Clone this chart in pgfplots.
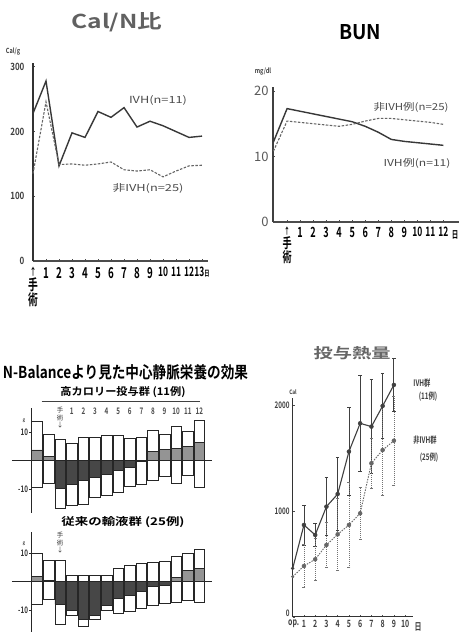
\documentclass[border=0pt]{standalone}
\usepackage{fontspec}
\setmainfont{Noto Sans CJK JP}[BoldFont={Noto Sans CJK JP Bold}]
\newfontfamily\cndA{Noto Sans CJK JP Bold}[FakeStretch=0.65]
\newfontfamily\cndB{Noto Sans CJK JP Bold}[FakeStretch=0.8]
\newfontfamily\cndC{Noto Sans CJK JP Bold}[FakeStretch=0.7]
\usepackage{graphicx}
\usepackage{pgfplots}
\usepackage{pgfplotstable}
\pgfplotsset{compat=1.18}

\pgfplotstableread{
x T B N P
-2 13.7 -9.2 0 3.8
-1 9.2 -8.0 0 1.4
0 7.5 -16.7 -9.7 0
1 6.1 -15.5 -8.3 0
2 8.2 -15.2 -7.0 0
3 8.2 -12.8 -5.8 0
4 8.8 -12.0 -4.7 0
5 8.8 -11.2 -3.3 0
6 7.9 -9.1 -2.3 0
7 8.1 -8.3 -0.3 0
8 10.5 -6.8 0 3.2
9 9.2 -5.6 0 4.1
10 12.1 -7.9 0 4.3
11 10.4 -5.0 0 5.1
12 14.3 -9.5 0 6.3
}\nbupper

\pgfplotstableread{
x T B N P
-2 10.2 -8.0 0 2.0
-1 7.5 -6.2 0 0.6
0 7.4 -15.1 -8.0 0
1 2.2 -11.8 -10.0 0
2 2.2 -15.9 -13.5 0
3 2.2 -13.5 -11.8 0
4 2.2 -10.0 -8.2 0
5 4.9 -11.2 -5.9 0
6 5.9 -10.6 -4.7 0
7 6.5 -9.4 -3.3 0
8 6.8 -8.2 -1.8 0
9 7.3 -7.6 -1.2 0
10 9.1 -7.3 0 1.5
11 10.2 -6.5 0 4.0
12 11.4 -7.3 0 4.8
}\nblower

\pgfplotsset{
  nbbox/.style={ybar, bar width=10.6pt, bar shift=0pt, fill=white, draw=black!85, line width=0.7pt},
  nbaxis/.style={scale only axis, anchor=south west, width=180pt,
    xmin=-2.46, xmax=13.06, axis x line=none, axis y line=left,
    axis line style={-, line width=0.9pt, black!85},
    xtick=\empty, ytick={-10,10}, yticklabels={-10,10},
    tick align=outside, major tick length=2.5pt, tick style={black!85, line width=0.7pt},
    yticklabel style={font=\cndC\fontsize{9}{9}\selectfont, text=black!80, inner sep=1pt},
    clip=false},
}
\newcommand{\tw}[1]{{\fontsize{13}{13}\selectfont #1}}

\begin{document}
\begin{tikzpicture}
\path[use as bounding box] (0,0) rectangle (459pt,639pt);
\fill[white] (0,0) rectangle (459pt,639pt);

% ---------------- Panel 1: Cal/N ratio ----------------
\begin{axis}[scale only axis, at={(33pt,378pt)}, anchor=south west, width=175pt, height=198pt,
  xmin=0, xmax=13.46, ymin=0, ymax=306,
  axis lines=left, axis line style={-},
  x axis line style={line width=1.2pt, black!70},
  y axis line style={line width=1.6pt, black!80},
  xtick={0,...,13},
  xticklabels={{\fontsize{10}{11}\selectfont ↑\\手\\術},1,2,3,4,5,6,7,8,9,\tw{10},\tw{11},\tw{12},{\tw{13}\fontsize{8}{8}\selectfont 日}},
  ytick={0,100,200,300}, yticklabels={0,100,200,300},
  tick align=inside, major tick length=2pt, tick style={black!70, line width=0.8pt},
  xticklabel style={font=\cndA\fontsize{15}{15}\selectfont, align=center, anchor=north, inner sep=1pt, yshift=-5pt},
  yticklabel style={font=\cndB\fontsize{10}{10}\selectfont, text=black!75, xshift=-5pt},
  clip=false]
\addplot[line width=1.4pt, black!78] coordinates {(0,228)(1,278)(2,147)(3,198)(4,191)(5,231)(6,222)(7,237)(8,207)(9,216)(10,209)(11,200)(12,191)(13,193)};
\addplot[line width=1.1pt, black!60, dash pattern=on 2.5pt off 1.5pt] coordinates {(0,135)(1,246)(2,149)(3,150)(4,148)(5,150)(6,153)(7,141)(8,139)(9,141)(10,130)(11,139)(12,147)(13,148)};
\end{axis}
\node[text=black!62] at (117pt,617pt) {\resizebox{91pt}{16pt}{\bfseries Cal/N比}};
\node[font=\cndB\fontsize{7}{7}\selectfont, text=black!75] at (13pt,587pt) {Cal/g};
\node[text=black!70] at (158pt,539pt) {\resizebox{58pt}{8pt}{IVH(n=11)}};
\node[text=black!70] at (148pt,451pt) {\resizebox{71pt}{8pt}{非IVH(n=25)}};

% ---------------- Panel 2: BUN ----------------
\begin{axis}[scale only axis, at={(273pt,417pt)}, anchor=south west, width=186pt, height=135pt,
  xmin=-1.08, xmax=13.2, ymin=0, ymax=20.6,
  axis lines=left, axis line style={-},
  x axis line style={line width=1.2pt, black!70},
  y axis line style={line width=1.4pt, black!75},
  xtick={0,...,12},
  xticklabels={{\fontsize{9}{10}\selectfont ↑\\手\\術},1,2,3,4,5,6,7,8,9,\tw{10},\tw{11},\tw{12}},
  ytick={0,10,20}, yticklabels={0,10,20},
  tick align=inside, major tick length=2pt, tick style={black!70, line width=0.8pt},
  xticklabel style={font=\cndA\fontsize{14}{14}\selectfont, align=center, anchor=north, inner sep=1pt, yshift=-4pt},
  yticklabel style={font=\fontsize{13}{13}\selectfont, text=black!65, xshift=-1pt},
  clip=false]
\addplot[line width=1.4pt, black!78] coordinates {(-1.05,12.2)(0,17.3)(1,16.9)(2,16.5)(3,16.1)(4,15.7)(5,15.3)(6,14.6)(7,13.7)(8,12.6)(9,12.3)(10,12.1)(11,11.9)(12,11.7)};
\addplot[line width=1.1pt, black!60, dash pattern=on 2.5pt off 1.5pt] coordinates {(-1.05,10.8)(0,15.4)(1,15.2)(2,15.0)(3,14.8)(4,14.6)(5,14.9)(6,15.4)(7,15.8)(8,15.8)(9,15.6)(10,15.4)(11,15.2)(12,14.9)};
\end{axis}
\node at (360pt,607pt) {\resizebox{42pt}{15pt}{\bfseries BUN}};
\node[font=\cndB\fontsize{7}{7}\selectfont, text=black!75] at (263pt,567pt) {mg/dl};
\node[text=black!70] at (411pt,532pt) {\resizebox{75pt}{8pt}{非IVH例(n=25)}};
\node[text=black!70] at (417pt,476pt) {\resizebox{67pt}{8pt}{IVH例(n=11)}};
\node[font=\cndA\fontsize{10}{10}\selectfont, anchor=east, inner sep=0.5pt] at (459pt,404pt) {日};

% ---------------- Panel 3: N-Balance ----------------
\node at (125.5pt,266.5pt) {\resizebox{245pt}{14pt}{\bfseries N-Balanceより見た中心静脈栄養の効果}};
\node at (123pt,247pt) {\resizebox{125pt}{9pt}{\bfseries 高カロリー投与群 (11例)}};
\draw[line width=0.8pt, black!75] (41.7pt,237.3pt) -- (200pt,237.3pt);
\foreach \i in {1,...,12} \node[font=\cndC\fontsize{9}{9}\selectfont, text=black!70] at ({60.2pt+11.6pt*\i},228pt) {\i};
\node[font=\fontsize{6.5}{7.5}\selectfont, align=center, text=black!80] at (60.2pt,221pt) {手\\術\\↓};

\begin{axis}[nbaxis, at={(31.7pt,126pt)}, height=105pt, ymin=-18.35, ymax=18.5]
\addplot[nbbox] table[x=x,y=T]{\nbupper};
\addplot[nbbox] table[x=x,y=B]{\nbupper};
\addplot[nbbox, fill=black!72] table[x=x,y=N]{\nbupper};
\addplot[nbbox, fill=black!42] table[x=x,y=P]{\nbupper};
\draw[line width=0.9pt, black!85] (axis cs:-4.16,0) -- (axis cs:13.06,0);
\end{axis}
\node[font=\fontsize{4.5}{5}\selectfont] at (24pt,218pt) {g};

\node at (123pt,117pt) {\resizebox{123pt}{9pt}{\bfseries 従来の輸液群 (25例)}};
\node[font=\fontsize{6.5}{7.5}\selectfont, align=center, text=black!80] at (60.2pt,96pt) {手\\術\\↓};

\begin{axis}[nbaxis, at={(31.7pt,7.3pt)}, height=100pt, ymin=-17.7, ymax=17.7]
\addplot[nbbox] table[x=x,y=T]{\nblower};
\addplot[nbbox] table[x=x,y=B]{\nblower};
\addplot[nbbox, fill=black!72] table[x=x,y=N]{\nblower};
\addplot[nbbox, fill=black!42] table[x=x,y=P]{\nblower};
\draw[line width=0.9pt, black!85] (axis cs:-4.16,0) -- (axis cs:13.06,0);
\end{axis}
\node[font=\fontsize{4.5}{5}\selectfont] at (24pt,95pt) {g};

% ---------------- Panel 4: 投与熱量 ----------------
\begin{axis}[scale only axis, at={(292.7pt,22pt)}, anchor=south west, width=120.3pt, height=218.7pt,
  xmin=0, xmax=10.7, ymin=0, ymax=2063,
  axis lines=left, axis line style={-, line width=1pt, black!80},
  xtick={0,...,10}, xticklabels={\raisebox{-2pt}{\hspace{2pt}op.},1,2,3,4,5,6,7,8,9,10},
  ytick={0,1000,2000}, yticklabels={\raisebox{7pt}{0},1000,2000},
  tick align=inside, major tick length=2pt, tick style={black!70, line width=0.7pt},
  xticklabel style={font=\cndC\fontsize{10}{10}\selectfont, text=black!75, anchor=north, inner sep=1pt, yshift=-2pt},
  yticklabel style={font=\cndC\fontsize{9}{9}\selectfont, text=black!75, inner sep=1pt, xshift=-2pt},
  clip=false]
\addplot[line width=1.1pt, black!75, mark=*, mark size=1.1pt] table {
x y
0 459
1 868
2 774
3 1041
4 1160
5 1560
6 1827
7 1796
8 1991
9 2189
};
\addplot[black!75, only marks, mark=none, error bars/.cd, y dir=both, y explicit,
  error bar style={line width=0.8pt, black!75}, error mark options={rotate=90, mark size=1.8pt, line width=0.8pt}]
  table[x=x, y=y, y error=e] {
x y e
1 868 189
2 774 110
3 1041 273
4 1160 346
5 1560 415
6 1827 456
7 1796 446
8 1991 308
9 2189 251
};
\addplot[line width=0.9pt, black!60, dash pattern=on 1.5pt off 1.2pt, mark=*, mark size=1.1pt, mark options={solid}] table {
x y
0 380
1 481
2 544
3 679
4 780
5 868
6 978
7 1450
8 1575
9 1663
};
\addplot[black!60, only marks, mark=none, error bars/.cd, y dir=both, y explicit,
  error bar style={line width=0.7pt, black!55, dash pattern=on 1pt off 1pt}, error mark options={rotate=90, mark size=1.5pt, line width=0.6pt, solid}]
  table[x=x, y=y, y error=e] {
x y e
1 481 201
2 544 201
3 679 210
4 780 337
5 868 399
6 978 245
7 1450 236
8 1575 424
9 1663 418
};
\end{axis}
\node[text=black!60] at (352pt,286pt) {\resizebox{77pt}{12pt}{\bfseries 投与熱量}};
\node[font=\cndB\fontsize{6}{6}\selectfont, text=black!75] at (293pt,247.3pt) {Cal};
\node[font=\cndC\fontsize{10}{10}\selectfont, text=black!75] at (418pt,12pt) {日};
\node[font=\cndC\fontsize{9}{9}\selectfont, text=black!75] at (422pt,256pt) {IVH群};
\node[font=\cndC\fontsize{9}{9}\selectfont, text=black!75] at (428pt,242pt) {(11例)};
\node[font=\cndC\fontsize{9}{9}\selectfont, text=black!75] at (425pt,199pt) {非IVH群};
\node[font=\cndC\fontsize{9}{9}\selectfont, text=black!75] at (429pt,181pt) {(25例)};
\end{tikzpicture}
\end{document}
